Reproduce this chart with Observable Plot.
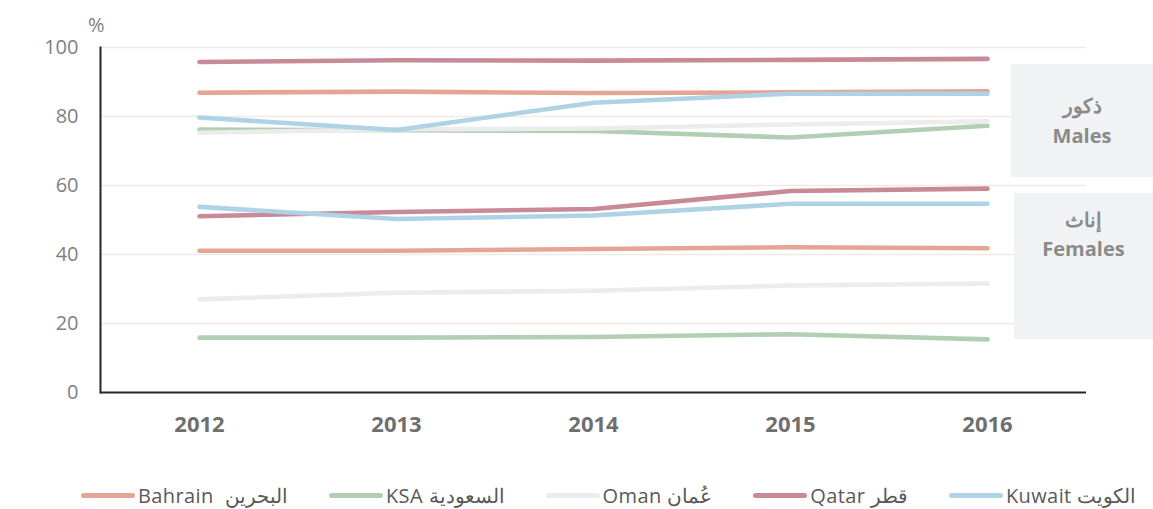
<!DOCTYPE html>
<html>
<head>
<meta charset="utf-8">
<script src="https://cdn.jsdelivr.net/npm/d3@7"></script>
<script src="https://cdn.jsdelivr.net/npm/@observablehq/plot@0.6"></script>
<style>
  html, body { margin: 0; padding: 0; background: #fff; }
  #wrap { position: relative; width: 1153px; height: 509px; overflow: hidden; font-family: "Open Sans", sans-serif; }
  #pct { position: absolute; left: 88px; top: 10px; font-size: 20px; color: #7f7f7f; line-height: 30px; }
  .box { position: absolute; background: #f1f2f4; color: #8a8a8a; font-weight: 700; font-size: 20px; text-align: center; box-sizing: border-box; }
  #legend { position: absolute; left: 81px; top: 482px; display: flex; gap: 41px; align-items: center; font-family: "Open Sans", sans-serif; font-size: 20px; letter-spacing: 0.4px; color: #595959; direction: ltr; }
  .item { display: flex; align-items: center; gap: 3px; white-space: pre; }
  .sw { width: 54px; height: 5px; border-radius: 3px; }
</style>
</head>
<body>
<div id="wrap">
  <div id="chart"></div>
  <div id="pct">%</div>
  <div id="legend"></div>
</div>
<script>
const years = ["2012", "2013", "2014", "2015", "2016"];
const countries = ["Bahrain", "KSA", "Oman", "Qatar", "Kuwait"];
const legendLabels = ["Bahrain  البحرين", "KSA السعودية", "Oman عُمان", "Qatar قطر", "Kuwait الكويت"];
const colors = ["#e4a597", "#b2cfb4", "#ececec", "#c98a98", "#afd3e6"];

// Males (%)
const malesBahrain = [86.9, 87.2, 86.8, 87.0, 87.3];
const malesKSA     = [76.2, 76.0, 75.8, 73.9, 77.3];
const malesOman    = [75.3, 76.3, 76.5, 77.7, 78.6];
const malesQatar   = [95.8, 96.3, 96.2, 96.4, 96.7];
const malesKuwait  = [79.7, 76.1, 84.0, 86.6, 86.6];

// Females (%)
const femalesBahrain = [41.1, 41.1, 41.6, 42.1, 41.8];
const femalesKSA     = [15.9, 15.9, 16.1, 16.9, 15.4];
const femalesOman    = [27.0, 28.9, 29.5, 31.0, 31.6];
const femalesQatar   = [51.1, 52.3, 53.2, 58.4, 59.1];
const femalesKuwait  = [53.8, 50.3, 51.3, 54.7, 54.7];

const yTicks = [0, 20, 40, 60, 80, 100];
const gridTicks = [20, 40, 60, 80, 100];
const groupLabels = [["ذكور", "Males"], ["إناث", "Females"]];

const males = [malesBahrain, malesKSA, malesOman, malesQatar, malesKuwait];
const females = [femalesBahrain, femalesKSA, femalesOman, femalesQatar, femalesKuwait];

const rows = [];
countries.forEach((c, i) => {
  years.forEach((y, j) => {
    rows.push({country: c, group: "F", year: y, value: females[i][j], order: i});
    rows.push({country: c, group: "M", year: y, value: males[i][j], order: i});
  });
});

const chart = Plot.plot({
  width: 1153,
  height: 470,
  marginLeft: 100,
  marginRight: 67,
  marginTop: 47,
  marginBottom: 78,
  x: {type: "point", domain: years, padding: 0.5, label: null},
  y: {domain: [0, 100], label: null},
  color: {domain: countries, range: colors},
  style: {fontFamily: "Open Sans, sans-serif", background: "transparent"},
  marks: [
    Plot.ruleY(gridTicks, {stroke: "#efebe1", strokeWidth: 1.6}),
    Plot.axisY({ticks: yTicks, tickSize: 0, tickPadding: 22, fontSize: 20, fill: "#7f7f7f", label: null}),
    Plot.axisX({tickSize: 0, tickPadding: 24, fontSize: 22, fontWeight: "bold", fill: "#6f6f6f", label: null}),
    ...countries.flatMap(c => ["F", "M"].map(g =>
      Plot.line(rows.filter(r => r.country === c && r.group === g), {
        x: "year", y: "value", stroke: "country", strokeWidth: 4.6,
        strokeLinecap: "round", strokeLinejoin: "round"
      })
    )),
    Plot.ruleY([0], {stroke: "#262626", strokeWidth: 2}),
    Plot.frame({anchor: "left", stroke: "#262626", strokeWidth: 2})
  ]
});
document.getElementById("chart").appendChild(chart);

// group boxes (Males / Females) on the right, placed via the chart's y scale
const ys = chart.scale("y");
const boxes = [
  {labels: groupLabels[0], top: 95.1, bottom: 62.3, left: 1011, pad: 27, lh: 30},
  {labels: groupLabels[1], top: 57.6, bottom: 15.3, left: 1014, pad: 12, lh: 29}
];
const wrap = document.getElementById("wrap");
boxes.forEach(b => {
  const d = document.createElement("div");
  d.className = "box";
  const t = ys.apply(b.top), bt = ys.apply(b.bottom);
  d.style.left = b.left + "px";
  d.style.top = t + "px";
  d.style.width = (1153 - b.left) + "px";
  d.style.height = (bt - t) + "px";
  d.style.paddingTop = b.pad + "px";
  b.labels.forEach(l => {
    const s = document.createElement("div");
    s.textContent = l;
    s.style.lineHeight = b.lh + "px";
    d.appendChild(s);
  });
  wrap.appendChild(d);
});

// legend
const lg = document.getElementById("legend");
countries.forEach((c, i) => {
  const it = document.createElement("div");
  it.className = "item";
  const sw = document.createElement("span");
  sw.className = "sw";
  sw.style.background = colors[i];
  const tx = document.createElement("span");
  tx.textContent = legendLabels[i];
  tx.dir = "ltr";
  it.appendChild(sw); it.appendChild(tx);
  lg.appendChild(it);
});
</script>
</body>
</html>
